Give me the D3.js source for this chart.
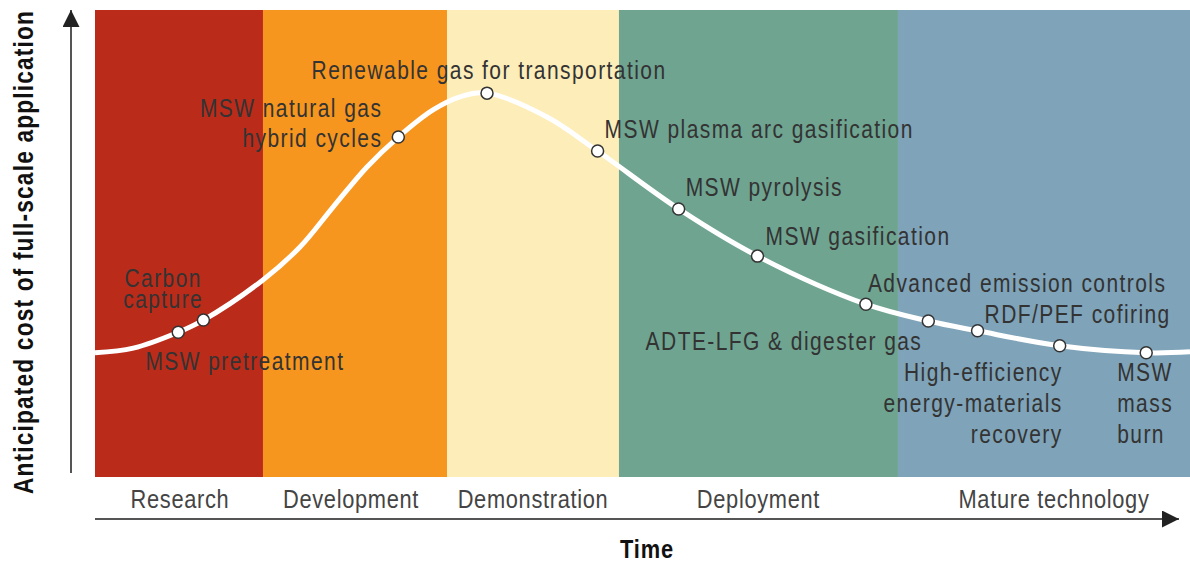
<!DOCTYPE html>
<html>
<head>
<meta charset="utf-8">
<script src="https://cdn.jsdelivr.net/npm/d3@7"></script>
<style>
  body { margin: 0; background: #fff; }
  svg text { font-family: "Liberation Sans", Arial, sans-serif; }
</style>
</head>
<body>
<script>
// Stages along the time axis (start/end in time units 0-100)
const stageNames = ["Research", "Development", "Demonstration", "Deployment", "Mature technology"];
const stageStart = [0, 15.34, 32.15, 47.85, 73.33];
const stageEnd = [15.34, 32.15, 47.85, 73.33, 100];
const stageColors = ["#bb2b1a", "#f7961e", "#fdedb9", "#6fa491", "#7fa3b8"];

// Technologies placed on the curve (time, cost)
const techNames = [
    ["Carbon", "capture"],
    ["MSW pretreatment"],
    ["MSW natural gas", "hybrid cycles"],
    ["Renewable gas for transportation"],
    ["MSW plasma arc gasification"],
    ["MSW pyrolysis"],
    ["MSW gasification"],
    ["Advanced emission controls"],
    ["ADTE-LFG & digester gas"],
    ["RDF/PEF cofiring"],
    ["High-efficiency", "energy-materials", "recovery"],
    ["MSW", "mass", "burn"]
];
const techTime = [7.6, 9.9, 27.7, 35.8, 45.9, 53.3, 60.5, 70.4, 76.1, 80.6, 88.1, 96.0];
const techCost = [31.0, 33.6, 72.8, 82.2, 69.8, 57.4, 47.3, 37.0, 33.4, 31.3, 28.1, 26.6];

// extra points that shape the curve between technologies
const curveTime = [0, 3.5, 15.34, 18.72, 21.74, 24.84, 30.87, 33.33, 41.28, 100];
const curveCost = [26.6, 27.6, 42.2, 49.25, 57.8, 66.4, 78.6, 81.4, 77.1, 26.8];

// label placement relative to each marker (pixels)
const labelLayout = [
    { dx: -15, dy: -45, anchor: "middle", lh: 21 },
    { dx: -58, dy: 50, anchor: "start", lh: 30 },
    { dx: -16, dy: -20, anchor: "end", lh: 30 },
    { dx: 2, dy: -14, anchor: "middle", lh: 30 },
    { dx: 7, dy: -13, anchor: "start", lh: 30 },
    { dx: 7, dy: -13, anchor: "start", lh: 30 },
    { dx: 8, dy: -11, anchor: "start", lh: 30 },
    { dx: 2, dy: -12, anchor: "start", lh: 30 },
    { dx: -6, dy: 29, anchor: "end", lh: 30 },
    { dx: 7, dy: -8, anchor: "start", lh: 30 },
    { dx: 3, dy: 35, anchor: "end", lh: 31 },
    { dx: -29, dy: 28, anchor: "start", lh: 31 }
];

const W = 1190, H = 566;
const plot = { left: 95, right: 1190, top: 10, bottom: 477 };
const squeeze = 0.84; // condensed look for the label type

const svg = d3.select("body").append("svg")
    .attr("width", W)
    .attr("height", H);

const x = d3.scaleLinear().domain([0, 100]).range([plot.left, plot.right]);
const y = d3.scaleLinear().domain([0, 100]).range([plot.bottom, plot.top]);

// arrow markers
const defs = svg.append("defs");
defs.append("marker")
    .attr("id", "arrow")
    .attr("viewBox", "0 0 10 10")
    .attr("refX", 10).attr("refY", 5)
    .attr("markerUnits", "userSpaceOnUse")
    .attr("markerWidth", 20).attr("markerHeight", 17)
    .attr("orient", "auto")
    .append("path")
    .attr("d", "M0,0L10,5L0,10Z")
    .attr("fill", "#222");

// stage bands
svg.append("g").selectAll("rect")
    .data(stageNames)
    .enter()
    .append("rect")
    .attr("x", (d, i) => x(stageStart[i]))
    .attr("width", (d, i) => x(stageEnd[i]) - x(stageStart[i]))
    .attr("y", y(100))
    .attr("height", y(0) - y(100))
    .attr("fill", (d, i) => stageColors[i]);

// stage labels
const stageDx = [1, -4, 0, 0, 10];
svg.append("g").selectAll("text")
    .data(stageNames)
    .enter()
    .append("text")
    .attr("transform", (d, i) => `translate(${(x(stageStart[i]) + x(stageEnd[i])) / 2 + stageDx[i]},508) scale(${squeeze},1)`)
    .attr("text-anchor", "middle")
    .attr("font-size", 26)
    .attr("letter-spacing", 0.8)
    .attr("fill", "#444")
    .text(d => d);

// axes arrows
svg.append("line")
    .attr("x1", 71).attr("x2", 71)
    .attr("y1", 473).attr("y2", 10)
    .attr("stroke", "#555").attr("stroke-width", 2)
    .attr("marker-end", "url(#arrow)");

svg.append("line")
    .attr("x1", 95).attr("x2", 1179)
    .attr("y1", 519).attr("y2", 519)
    .attr("stroke", "#555").attr("stroke-width", 2)
    .attr("marker-end", "url(#arrow)");

svg.append("text")
    .attr("transform", `translate(647,558) scale(${squeeze},1)`)
    .attr("text-anchor", "middle")
    .attr("font-size", 26)
    .attr("font-weight", "bold")
    .attr("letter-spacing", 1)
    .attr("fill", "#111")
    .text("Time");

svg.append("text")
    .attr("transform", `translate(33,252) rotate(-90) scale(${squeeze},1)`)
    .attr("text-anchor", "middle")
    .attr("font-size", 27)
    .attr("font-weight", "bold")
    .attr("letter-spacing", 1.4)
    .attr("fill", "#111")
    .text("Anticipated cost of full-scale application");

// curve through technologies and shaping points
const curvePts = techTime.map((t, i) => [t, techCost[i]])
    .concat(curveTime.map((t, i) => [t, curveCost[i]]))
    .sort((a, b) => a[0] - b[0]);

const line = d3.line()
    .x(d => x(d[0]))
    .y(d => y(d[1]))
    .curve(d3.curveCatmullRom.alpha(0.5));

svg.append("path")
    .datum(curvePts)
    .attr("fill", "none")
    .attr("stroke", "#fff")
    .attr("stroke-width", 5)
    .attr("d", line);

// markers
svg.append("g").selectAll("circle")
    .data(techTime)
    .enter()
    .append("circle")
    .attr("cx", d => x(d))
    .attr("cy", (d, i) => y(techCost[i]))
    .attr("r", 6)
    .attr("fill", "#fff")
    .attr("stroke", "#333")
    .attr("stroke-width", 1.5);

// labels
const labels = svg.append("g").selectAll("text")
    .data(techNames)
    .enter()
    .append("text")
    .attr("transform", (d, i) => {
        const L = labelLayout[i];
        return `translate(${x(techTime[i]) + L.dx},${y(techCost[i]) + L.dy}) scale(${squeeze},1)`;
    })
    .attr("font-size", 25)
    .attr("letter-spacing", 1.7)
    .attr("fill", "#333")
    .attr("text-anchor", (d, i) => labelLayout[i].anchor);

labels.each(function(lines, i) {
    const L = labelLayout[i];
    d3.select(this).selectAll("tspan")
        .data(lines)
        .enter()
        .append("tspan")
        .attr("x", 0)
        .attr("y", (d, j) => j * L.lh)
        .text(d => d);
});
</script>
</body>
</html>
